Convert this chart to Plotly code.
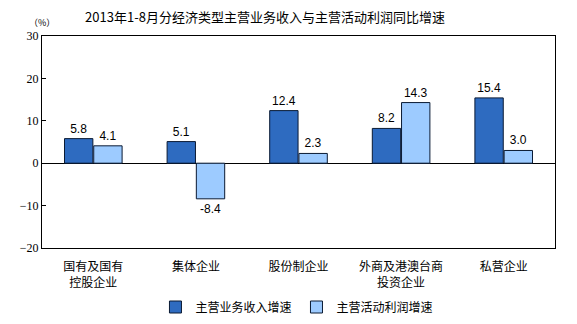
import plotly.graph_objects as go

categories = ["国有及国有<br>控股企业", "集体企业", "股份制企业", "外商及港澳台商<br>投资企业", "私营企业"]
revenue = [5.8, 5.1, 12.4, 8.2, 15.4]
profit = [4.1, -8.4, 2.3, 14.3, 3.0]
series_names = ["主营业务收入增速", "主营活动利润增速"]
title_text = "2013年1-8月分经济类型主营业务收入与主营活动利润同比增速"

fig = go.Figure()
fig.add_trace(go.Bar(
    x=categories, y=revenue, name=series_names[0],
    marker=dict(color="#2E6BC0", line=dict(color="#0A1A33", width=1)),
    text=[f"{v:.1f}" for v in revenue], textposition="outside",
    textfont=dict(family="Liberation Sans, Arial", size=12, color="#000"),
    cliponaxis=False,
))
fig.add_trace(go.Bar(
    x=categories, y=profit, name=series_names[1],
    marker=dict(color="#9DCBFF", line=dict(color="#0A1A33", width=1)),
    text=[f"{v:.1f}" for v in profit], textposition="outside",
    textfont=dict(family="Liberation Sans, Arial", size=12, color="#000"),
    cliponaxis=False,
))

fig.update_layout(
    width=577, height=324,
    margin=dict(l=42, r=22, t=36, b=76),
    paper_bgcolor="white", plot_bgcolor="white",
    barmode="group", bargap=0.43, bargroupgap=0.03,
    title=dict(text=title_text, x=265 / 577, xanchor="center", y=1 - 17 / 324, yanchor="middle",
               font=dict(family="Noto Sans CJK SC", size=13, color="#000")),
    font=dict(family="Noto Sans CJK SC", size=12, color="#000"),
    showlegend=True,
    legend=dict(orientation="h", x=0.497, xanchor="center", yref="container",
                y=1 - 307 / 324, yanchor="middle",
                font=dict(family="Noto Sans CJK SC", size=12, color="#000"),
                itemwidth=30, traceorder="normal"),
    xaxis=dict(showline=True, linecolor="#000", linewidth=1, mirror=True,
               ticks="", automargin=False, ticklabelstandoff=8,
               tickfont=dict(family="Noto Sans CJK SC", size=12, color="#000")),
    yaxis=dict(range=[-20, 30], dtick=10, showgrid=False, zeroline=True,
               zerolinecolor="#000", zerolinewidth=1, automargin=False,
               showline=True, linecolor="#000", linewidth=1, mirror=True,
               ticks="inside", ticklen=4, tickcolor="#000",
               tickfont=dict(family="Liberation Serif, Times New Roman", size=12, color="#000")),
)
fig.add_annotation(text="（%）", xref="paper", yref="paper", x=(42 - 42) / 513, y=1 + 13 / 212,
                   xanchor="center", yanchor="middle", showarrow=False,
                   font=dict(family="Noto Sans CJK SC", size=9, color="#000"))

fig.write_html("out.html")
